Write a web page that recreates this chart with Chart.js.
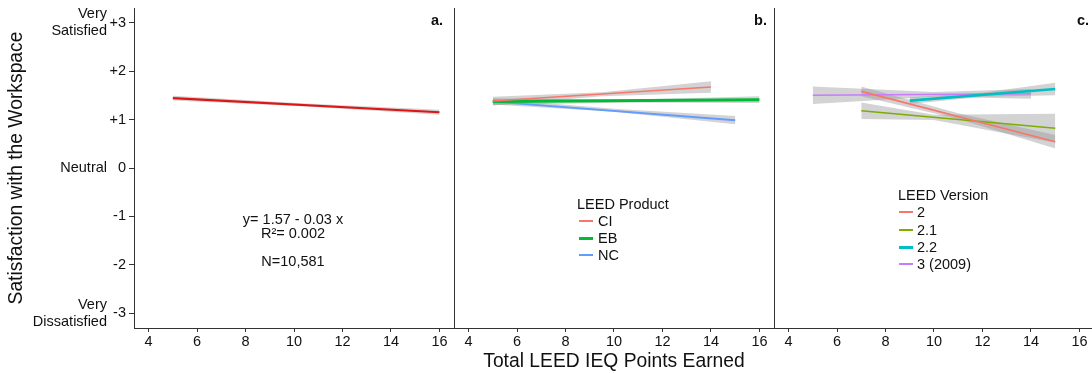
<!DOCTYPE html>
<html><head><meta charset="utf-8">
<script src="https://cdn.jsdelivr.net/npm/chart.js@4.4.0/dist/chart.umd.min.js"></script>
<style>
html,body{margin:0;padding:0;background:#fff;overflow:hidden;width:1092px;height:373px;}
#wrap{position:relative;width:1092px;height:373px;font-family:'Liberation Sans',Arial,sans-serif;color:#111;overflow:hidden;}
canvas{position:absolute;top:0;}
.t{position:absolute;font-size:14.5px;white-space:nowrap;line-height:1;z-index:5;}
.c{transform:translate(-50%,-50%);}
.r{transform:translate(-100%,-50%);}
.l{transform:translate(0,-50%);}
.b{font-weight:bold;}
.sw{position:absolute;width:14px;z-index:5;}
</style></head><body>
<div id="wrap">
<canvas id="ca" width="454" height="373" style="left:0;width:454px;height:373px"></canvas>
<canvas id="cb" width="330" height="373" style="left:444px;width:330px;height:373px"></canvas>
<canvas id="cc" width="340" height="373" style="left:764px;width:340px;height:373px"></canvas>

<div class="t r b" style="left:443px;top:20px">a.</div>
<div class="t r b" style="left:767px;top:20px">b.</div>
<div class="t r b" style="left:1089px;top:20px">c.</div>

<div class="t c" style="left:293px;top:219px">y= 1.57 - 0.03 x</div>
<div class="t c" style="left:293px;top:233px">R²= 0.002</div>
<div class="t c" style="left:293px;top:261px">N=10,581</div>

<div class="t l" style="left:577px;top:204px">LEED Product</div>
<div id="legB"></div>
<div class="t l" style="left:898px;top:195px">LEED Version</div>
<div id="legC"></div>
</div>
<script>
// ---- axes ----
const xTicks = [4, 6, 8, 10, 12, 14, 16];
const yTicks = [-3, -2, -1, 0, 1, 2, 3];
const yTickLabels = ['-3', '-2', '-1', '0', '+1', '+2', '+3'];
const yAnchorValues = [3, 0, -3];
const yAnchorLabels = [['Very', 'Satisfied'], 'Neutral', ['Very', 'Dissatisfied']];
const xMin = 3.4, xMax = 16.6, yMin = -3.3, yMax = 3.3;

// ---- panel a: all buildings ----
const allX = [5, 16];
const allY = [1.44, 1.15];
const allBandX = [5, 10.5, 16];
const allBandLo = [1.39, 1.27, 1.10];
const allBandHi = [1.49, 1.33, 1.20];

// ---- panel b: LEED product ----
const productNames = ['CI', 'EB', 'NC'];
const ciX = [5, 14], ciY = [1.38, 1.67];
const ciBandX = [5, 9.5, 14], ciBandLo = [1.29, 1.48, 1.55], ciBandHi = [1.47, 1.56, 1.79];
const ebX = [5, 16], ebY = [1.37, 1.41];
const ebBandX = [5, 10.5, 16], ebBandLo = [1.30, 1.35, 1.34], ebBandHi = [1.44, 1.41, 1.48];
const ncX = [5, 15], ncY = [1.37, 0.985];
const ncBandX = [5, 10, 15], ncBandLo = [1.31, 1.16, 0.90], ncBandHi = [1.43, 1.22, 1.07];

// ---- panel c: LEED version ----
const versionNames = ['2', '2.1', '2.2', '3 (2009)'];
const v2X = [7, 15], v2Y = [1.58, 0.54];
const v2BandX = [7, 11, 15], v2BandLo = [1.48, 1.01, 0.40], v2BandHi = [1.68, 1.13, 0.68];
const v21X = [7, 15], v21Y = [1.18, 0.82];
const v21BandX = [7, 10, 15], v21BandLo = [1.01, 0.99, 0.52], v21BandHi = [1.35, 1.10, 1.12];
const v22X = [9, 15], v22Y = [1.39, 1.63];
const v22BandX = [9, 12, 15], v22BandLo = [1.32, 1.47, 1.50], v22BandHi = [1.46, 1.55, 1.76];
const v3X = [5, 14], v3Y = [1.50, 1.53];
const v3BandX = [5, 10, 14], v3BandLo = [1.32, 1.47, 1.43], v3BandHi = [1.68, 1.57, 1.63];

// ---- styling ----
const AX = '#333';
const TXT = '#111';
const BAND = 'rgba(150,150,150,0.42)';
const productColors = ['#F8766D', '#00BA38', '#619CFF'];
const productWidths = [1.5, 3, 1.8];
const versionColors = ['#F8766D', '#7CAE00', '#00BFC4', '#C77CFF'];
const versionWidths = [1.6, 1.6, 2.6, 1.6];
const legendWidths = [2, 3, 2];
const legendWidthsC = [2, 2, 3, 2];
const TICK_FONT = 14.5, TITLE_FONT = 19.3;

Chart.defaults.font.family = "'Liberation Sans', Arial, sans-serif";
Chart.defaults.color = TXT;

const pts = (xs, ys) => xs.map((x, i) => ({x: x, y: ys[i]}));
function lineDs(xs, ys, color, w) {
  return {data: pts(xs, ys), borderColor: color, borderWidth: w, pointRadius: 0, fill: false, order: 0, tension: 0};
}
function bandDs(xs, lo, hi) {
  return [
    {data: pts(xs, hi), borderWidth: 0, borderColor: 'rgba(0,0,0,0)', backgroundColor: BAND, pointRadius: 0, fill: '+1', order: 1, tension: 0},
    {data: pts(xs, lo), borderWidth: 0, borderColor: 'rgba(0,0,0,0)', pointRadius: 0, fill: false, order: 1, tension: 0}
  ];
}
function noPad(s) { s.paddingTop = 0; s.paddingBottom = 0; }
function xScale(title) {
  return {
    type: 'linear', min: xMin, max: xMax,
    afterBuildTicks: s => { s.ticks = xTicks.map(v => ({value: v})); },
    ticks: {font: {size: TICK_FONT}, color: TXT, padding: 1, maxRotation: 0, autoSkip: false, callback: v => String(v)},
    grid: {display: true, drawOnChartArea: false, drawTicks: true, tickLength: 4, color: AX},
    border: {display: true, color: AX, width: 1},
    title: title ? {display: true, text: title, font: {size: TITLE_FONT}, color: TXT, padding: {top: 0, bottom: 0}} : {display: false},
    afterFit: s => { s.height = 45; s.paddingLeft = 0; s.paddingRight = 0; }
  };
}
function plainY() {
  return {
    type: 'linear', min: yMin, max: yMax,
    afterBuildTicks: s => { s.ticks = yTicks.map(v => ({value: v})); },
    ticks: {display: false},
    grid: {display: false},
    border: {display: true, color: AX, width: 1},
    afterFit: s => { s.width = 0; noPad(s); }
  };
}
const baseOpts = (padLeft, padRight, scales) => ({
  responsive: false, animation: false, devicePixelRatio: 1,
  layout: {padding: {top: 8, left: padLeft, right: padRight, bottom: 0}},
  plugins: {legend: {display: false}, tooltip: {enabled: false}},
  scales: scales
});

// panel a
new Chart(document.getElementById('ca'), {
  type: 'line',
  data: {datasets: [...bandDs(allBandX, allBandLo, allBandHi), lineDs(allX, allY, '#dd1515', 2.2)]},
  options: baseOpts(0, 0, {
    x: xScale(null),
    y: {
      type: 'linear', position: 'left', weight: 0, min: yMin, max: yMax,
      afterBuildTicks: s => { s.ticks = yTicks.map(v => ({value: v})); },
      ticks: {font: {size: TICK_FONT}, color: TXT, padding: 3, callback: v => yTickLabels[yTicks.indexOf(v)]},
      grid: {display: true, drawOnChartArea: false, drawTicks: true, tickLength: 5, color: AX},
      border: {display: true, color: AX, width: 1},
      afterFit: s => { s.width = 26; noPad(s); }
    },
    yl: {
      type: 'linear', position: 'left', weight: 1, min: yMin, max: yMax,
      afterBuildTicks: s => { s.ticks = yAnchorValues.map(v => ({value: v})); },
      ticks: {font: {size: TICK_FONT}, color: TXT, padding: 1, callback: v => yAnchorLabels[yAnchorValues.indexOf(v)]},
      grid: {display: false, drawTicks: false},
      border: {display: false},
      title: {display: true, text: 'Satisfaction with the Workspace', font: {size: TITLE_FONT}, color: TXT, padding: {top: 5.5, bottom: 0}},
      afterFit: s => { s.width = 108; noPad(s); }
    }
  })
});

// panel b
const prodSeries = [[ciX, ciY, ciBandX, ciBandLo, ciBandHi], [ebX, ebY, ebBandX, ebBandLo, ebBandHi], [ncX, ncY, ncBandX, ncBandLo, ncBandHi]];
const dsB = [];
prodSeries.forEach(s => dsB.push(...bandDs(s[2], s[3], s[4])));
prodSeries.forEach((s, i) => dsB.push(lineDs(s[0], s[1], productColors[i], productWidths[i])));
new Chart(document.getElementById('cb'), {
  type: 'line', data: {datasets: dsB},
  options: baseOpts(10, 0, {x: xScale('Total LEED IEQ Points Earned'), y: plainY()})
});

// panel c
const verSeries = [[v2X, v2Y, v2BandX, v2BandLo, v2BandHi], [v21X, v21Y, v21BandX, v21BandLo, v21BandHi], [v22X, v22Y, v22BandX, v22BandLo, v22BandHi], [v3X, v3Y, v3BandX, v3BandLo, v3BandHi]];
const dsC = [];
verSeries.forEach(s => dsC.push(...bandDs(s[2], s[3], s[4])));
verSeries.forEach((s, i) => dsC.push(lineDs(s[0], s[1], versionColors[i], versionWidths[i])));
new Chart(document.getElementById('cc'), {
  type: 'line', data: {datasets: dsC},
  options: baseOpts(10, 10, {x: xScale(null), y: plainY()})
});

// legends (HTML text)
function legend(id, names, colors, widths, swLeft, txtLeft, ys) {
  const host = document.getElementById(id);
  names.forEach((n, i) => {
    const sw = document.createElement('div');
    sw.className = 'sw';
    sw.style.cssText = 'left:' + swLeft + 'px;top:' + Math.round(ys[i] - widths[i] / 2) + 'px;height:' + widths[i] + 'px;background:' + colors[i];
    host.appendChild(sw);
    const t = document.createElement('div');
    t.className = 't l';
    t.style.left = txtLeft + 'px';
    t.style.top = ys[i] + 'px';
    t.textContent = n;
    host.appendChild(t);
  });
}
legend('legB', productNames, productColors, legendWidths, 579, 598, [221, 238, 255]);
legend('legC', versionNames, versionColors, legendWidthsC, 899, 917, [212, 230, 247, 264]);
</script>
</body></html>
